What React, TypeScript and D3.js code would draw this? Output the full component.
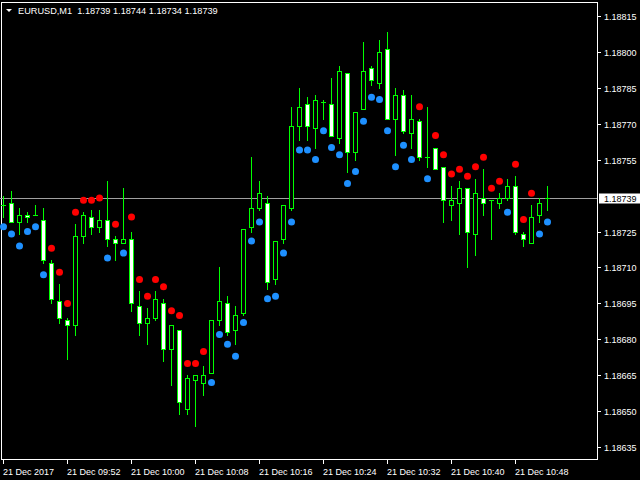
import React, { useEffect } from 'react';
import * as d3 from 'd3';

const symbolTitle = 'EURUSD,M1';
const headerPrices = ['1.18739', '1.18744', '1.18734', '1.18739'];
const currentPrice = 1.18739;

const timeLabels = ['21 Dec 2017', '21 Dec 09:52', '21 Dec 10:00', '21 Dec 10:08', '21 Dec 10:16', '21 Dec 10:24', '21 Dec 10:32', '21 Dec 10:40', '21 Dec 10:48'];
const timeLabelBars = [0, 8, 16, 24, 32, 40, 48, 56, 64];

const priceTicks = [1.18815, 1.188, 1.18785, 1.1877, 1.18755, 1.18725, 1.1871, 1.18695, 1.1868, 1.18665, 1.1865, 1.18635];

const openP = [1.18736, 1.18737, 1.18729, 1.18732, 1.18732, 1.18730, 1.18712, 1.18696, 1.18688, 1.18686,
  1.18723, 1.18731, 1.18727, 1.18730, 1.18722, 1.18720, 1.18722, 1.18694, 1.18687, 1.18689,
  1.18695, 1.18676, 1.18684, 1.18651, 1.18663, 1.18662, 1.18666, 1.18688, 1.18695, 1.18684,
  1.18691, 1.18727, 1.18735, 1.18737, 1.18705, 1.18722, 1.18735, 1.18769, 1.18778, 1.18768,
  1.18779, 1.18778, 1.18764, 1.18791, 1.18758, 1.18776, 1.18793, 1.18787, 1.18801, 1.18772,
  1.18782, 1.18766, 1.18771, 1.18756, 1.18760, 1.18752, 1.18736, 1.18737, 1.18743, 1.18724,
  1.18739, 1.18738, 1.18737, 1.18739, 1.18744, 1.18724, 1.18720, 1.18732, 1.18739];
const highP = [1.18740, 1.18742, 1.18735, 1.18733, 1.18736, 1.18735, 1.18713, 1.18703, 1.18689, 1.18728,
  1.18733, 1.18734, 1.18734, 1.18746, 1.18723, 1.18743, 1.18725, 1.18700, 1.18693, 1.18700,
  1.18697, 1.18686, 1.18684, 1.18665, 1.18665, 1.18669, 1.18688, 1.18710, 1.18698, 1.18694,
  1.18726, 1.18756, 1.18746, 1.18740, 1.18721, 1.18736, 1.18777, 1.18785, 1.18781, 1.18782,
  1.18780, 1.18789, 1.18794, 1.18791, 1.18775, 1.18804, 1.18794, 1.18805, 1.18808, 1.18785,
  1.18784, 1.18782, 1.18772, 1.18777, 1.18760, 1.18752, 1.18744, 1.18746, 1.18743, 1.18747,
  1.18751, 1.18738, 1.18741, 1.18747, 1.18748, 1.18725, 1.18736, 1.18739, 1.18744];
const lowP = [1.18731, 1.18729, 1.18724, 1.18729, 1.18732, 1.18712, 1.18695, 1.18687, 1.18672, 1.18682,
  1.18720, 1.18724, 1.18725, 1.18719, 1.18713, 1.18720, 1.18692, 1.18682, 1.18678, 1.18688,
  1.18671, 1.18661, 1.18649, 1.18649, 1.18644, 1.18657, 1.18666, 1.18686, 1.18682, 1.18678,
  1.18690, 1.18725, 1.18734, 1.18701, 1.18703, 1.18720, 1.18734, 1.18763, 1.18763, 1.18760,
  1.18772, 1.18765, 1.18762, 1.18750, 1.18755, 1.18776, 1.18786, 1.18785, 1.18772, 1.18757,
  1.18766, 1.18760, 1.18755, 1.18752, 1.18751, 1.18729, 1.18730, 1.18724, 1.18710, 1.18715,
  1.18732, 1.18722, 1.18735, 1.18738, 1.18724, 1.18719, 1.18720, 1.18729, 1.18734];
const closeP = [1.18736, 1.18729, 1.18732, 1.18731, 1.18732, 1.18713, 1.18697, 1.18689, 1.18686, 1.18723,
  1.18732, 1.18727, 1.18730, 1.18722, 1.18720, 1.18722, 1.18695, 1.18687, 1.18689, 1.18697,
  1.18676, 1.18686, 1.18654, 1.18664, 1.18665, 1.18665, 1.18688, 1.18696, 1.18683, 1.18690,
  1.18726, 1.18735, 1.18741, 1.18704, 1.18721, 1.18736, 1.18769, 1.18777, 1.18769, 1.18780,
  1.18779, 1.18765, 1.18792, 1.18758, 1.18775, 1.18792, 1.18788, 1.18800, 1.18772, 1.18782,
  1.18767, 1.18772, 1.18756, 1.18756, 1.18751, 1.18738, 1.18738, 1.18743, 1.18725, 1.18741,
  1.18737, 1.18738, 1.18739, 1.18744, 1.18725, 1.18722, 1.18731, 1.18737, 1.18739];

// indicator dots: red above price, blue below price (null = none)
const redDots: (number | null)[] = [null, null, null, null, null, null, 1.18718, 1.18708, 1.18695, 1.18733,
  1.18738, 1.18738, 1.18739, null, 1.18728, null, 1.18731, 1.18705, 1.18698, 1.18705,
  1.18702, 1.18692, 1.18690, 1.18670, 1.18670, 1.18675, null, null, null, null,
  null, null, null, null, null, null, null, null, null, null,
  null, null, null, null, null, null, null, null, null, null,
  null, null, 1.18777, null, 1.18765, 1.18757, 1.18749, 1.18751, 1.18748, 1.18752,
  1.18756, 1.18743, 1.18746, null, 1.18753, 1.18730, 1.18741, null, null];
const blueDots: (number | null)[] = [1.18727, 1.18724, 1.18719, 1.18725, 1.18727, 1.18707, null, null, null, null,
  null, null, null, 1.18714, null, 1.18716, null, null, null, null,
  null, null, null, null, null, null, 1.18662, 1.18682, 1.18678, 1.18673,
  1.18687, 1.18721, 1.18729, 1.18697, 1.18698, 1.18716, 1.18729, 1.18759, 1.18759, 1.18755,
  1.18767, 1.18760, 1.18757, 1.18745, 1.18750, 1.18771, 1.18781, 1.18780, 1.18767, 1.18752,
  1.18761, 1.18755, null, 1.18747, null, null, null, null, null, null,
  null, null, null, 1.18733, null, null, null, 1.18724, 1.18729];

const FONT = "'Liberation Sans', Arial, sans-serif";
const GREEN = '#00ff00';

export default function App() {
  useEffect(() => {
    document.body.style.margin = '0';
    document.body.style.background = '#000';
  }, []);

  const W = 640, H = 480;
  const frameRight = 597, frameBottom = 459;
  const n = openP.length;
  const x = d3.scaleLinear().domain([0, n - 1]).range([3, 3 + 8 * (n - 1)]);
  const y = d3.scaleLinear().domain([1.18635, 1.18815]).range([447.3, 15.7]);
  const py = (p: number) => Math.round(y(p));
  const fmt = d3.format('.5f');

  const candles = d3.range(n).map((i) => {
    const cx = Math.round(x(i));
    const o = openP[i], c = closeP[i], h = highP[i], l = lowP[i];
    const top = py(Math.max(o, c)), bot = py(Math.min(o, c));
    const bear = o > c;
    return (
      <g key={'c' + i} shapeRendering="crispEdges">
        <line x1={cx + 0.5} x2={cx + 0.5} y1={py(h)} y2={py(l) + 1} stroke={GREEN} strokeWidth={1} />
        {top === bot ? (
          <line x1={cx - 2} x2={cx + 3} y1={top + 0.5} y2={top + 0.5} stroke={GREEN} strokeWidth={1} />
        ) : (
          <rect x={cx - 1.5} y={top + 0.5} width={4} height={bot - top} fill={bear ? '#ffffff' : '#000000'} stroke={GREEN} strokeWidth={1} />
        )}
      </g>
    );
  });

  const dots = d3.range(n).flatMap((i) => {
    const cx = Math.round(x(i)) + 0.5;
    const out: any[] = [];
    const r = redDots[i], b = blueDots[i];
    if (r != null) out.push(<circle key={'r' + i} cx={cx} cy={y(r)} r={3.5} fill="#ff0000" />);
    if (b != null) out.push(<circle key={'b' + i} cx={cx} cy={y(b)} r={3.5} fill="#1e90ff" />);
    return out;
  });

  const curY = py(currentPrice) + 0.5;

  return (
    <svg width={W} height={H} style={{ position: 'absolute', left: 0, top: 0, background: '#000', display: 'block' }} fontFamily={FONT}>
      <rect x={0} y={0} width={W} height={H} fill="#000" />
      {/* frame */}
      <rect x={1.5} y={2.5} width={frameRight - 1.5 + 0.5} height={frameBottom - 2.5 + 0.5} fill="none" stroke="#ffffff" strokeWidth={1} shapeRendering="crispEdges" />
      {/* current price line */}
      <line x1={0} x2={frameRight} y1={curY} y2={curY} stroke="#a0a0a0" strokeWidth={1} shapeRendering="crispEdges" />
      {candles}
      {dots}
      {/* price axis */}
      {priceTicks.map((t) => {
        const ty = py(t) + 0.5;
        return (
          <g key={'t' + t}>
            <line x1={frameRight + 0.5} x2={frameRight + 4} y1={ty} y2={ty} stroke="#ffffff" strokeWidth={1} shapeRendering="crispEdges" />
            <text x={604} y={ty + 3.5} fontSize={9} fill="#ffffff">{fmt(t)}</text>
          </g>
        );
      })}
      <rect x={599} y={curY - 5} width={41} height={10} fill="#ffffff" />
      <text x={604} y={curY + 3.5} fontSize={9} fill="#000000">{fmt(currentPrice)}</text>
      {/* time axis */}
      {timeLabelBars.map((b, k) => {
        const tx = Math.round(x(b)) + 0.5;
        return (
          <g key={'x' + k}>
            <line x1={tx} x2={tx} y1={frameBottom} y2={frameBottom + 5} stroke="#ffffff" strokeWidth={1} shapeRendering="crispEdges" />
            <text x={tx - 0.5} y={475} fontSize={9} fill="#ffffff">{timeLabels[k]}</text>
          </g>
        );
      })}
      {/* header */}
      <polygon points="6,9 12,9 9,12" fill="#ffffff" />
      <text x={18} y={14} fontSize={9.2} fill="#ffffff" style={{ whiteSpace: 'pre' }}>
        {symbolTitle + '  ' + headerPrices.join(' ')}
      </text>
    </svg>
  );
}
